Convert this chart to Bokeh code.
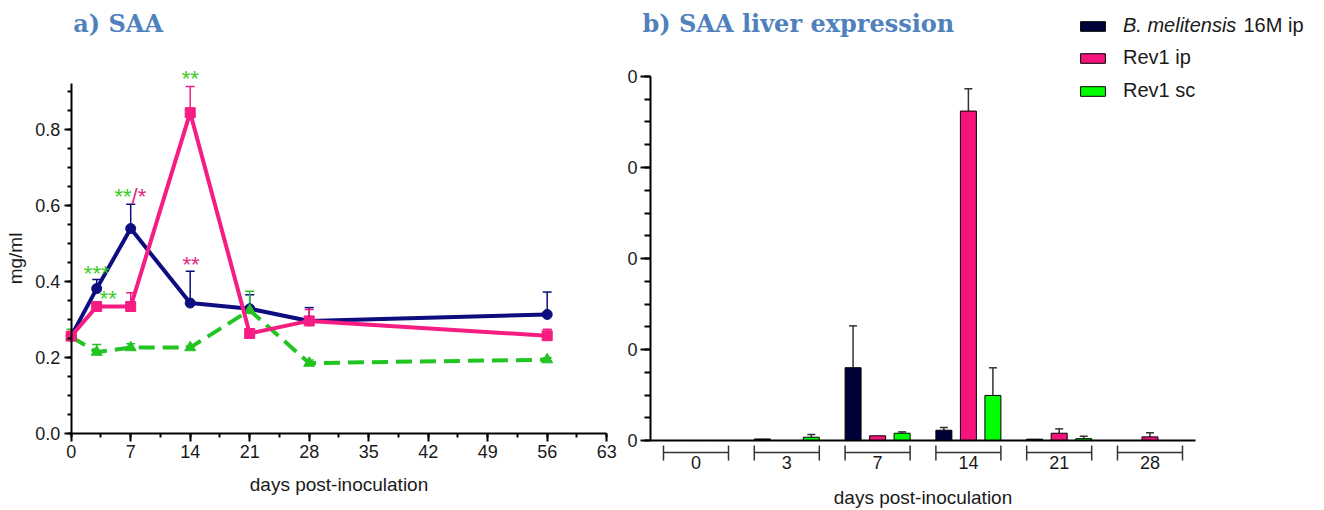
from bokeh.plotting import figure
from bokeh.layouts import row
from bokeh.models import (ColumnDataSource, Whisker, TeeHead, Range1d, SingleIntervalTicker,
                          FixedTicker, PrintfTickFormatter, Label, Legend, LegendItem)
from bokeh.embed import file_html
from bokeh.resources import INLINE

# ---------------- data: a) serum SAA (mg/ml) ----------------
days = [0, 3, 7, 14, 21, 28, 56]
bm_mean = [0.255, 0.380, 0.538, 0.342, 0.327, 0.295, 0.312]
bm_sem = [0.0, 0.024, 0.064, 0.084, 0.037, 0.035, 0.059]
ip_mean = [0.255, 0.333, 0.333, 0.843, 0.262, 0.295, 0.256]
ip_sem = [0.0, 0.006, 0.036, 0.069, 0.008, 0.030, 0.017]
sc_mean = [0.253, 0.213, 0.225, 0.225, 0.323, 0.184, 0.193]
sc_sem = [0.020, 0.020, 0.010, 0.004, 0.050, 0.008, 0.005]

# ---------------- data: b) SAA liver expression ----------------
liver_days = ["0", "3", "7", "14", "21", "28"]
bm_liver = [0.0, 0.0017, 0.080, 0.0113, 0.0015, 0.0]
bm_liver_sem = [0.0, 0.0, 0.046, 0.003, 0.0, 0.0]
ip_liver = [0.0, 0.0, 0.0052, 0.362, 0.008, 0.004]
ip_liver_sem = [0.0, 0.0, 0.0, 0.0245, 0.0048, 0.0045]
sc_liver = [0.0, 0.0036, 0.008, 0.0495, 0.002, 0.0]
sc_liver_sem = [0.0, 0.003, 0.0015, 0.0304, 0.0027, 0.0]

species_name = "B. melitensis"
series_names = ["16M ip", "Rev1 ip", "Rev1 sc"]

NAVY_L, PINK_L, GREEN_L = "#0d0d80", "#f51c82", "#22c422"
NAVY_B, PINK_B, GREEN_B = "#000038", "#f5147b", "#00ff00"
TXT = "#1a1a1a"
FONT = "Liberation Sans"
TITLE_C = "#4f81bd"
H = 510


def style_axis(ax):
    ax.axis_line_color = "black"
    ax.axis_line_width = 2
    ax.major_tick_line_color = "black"
    ax.minor_tick_line_color = "black"
    ax.major_tick_line_width = 2
    ax.minor_tick_line_width = 2
    ax.major_tick_in = 0
    ax.minor_tick_in = 0
    ax.major_label_text_font = FONT
    ax.major_label_text_font_size = "18px"
    ax.major_label_text_color = TXT
    ax.axis_label_text_font = FONT
    ax.axis_label_text_font_size = "19px"
    ax.axis_label_text_font_style = "normal"
    ax.axis_label_text_color = TXT


# ================= left panel =================
p1 = figure(width=622, height=H, output_backend="svg", toolbar_location=None, title=None,
            x_range=Range1d(-8.318, 64.86), y_range=Range1d(-0.2039, 1.1382), min_border=0)
p1.outline_line_color = None
p1.grid.visible = False

ax = p1.xaxis[0]
style_axis(ax)
ax.fixed_location = 0
ax.bounds = (0, 63)
ax.ticker = SingleIntervalTicker(interval=7, num_minor_ticks=2)
ax.major_tick_out = 8
ax.minor_tick_out = 4
ax.major_label_standoff = 4
ax.axis_label = "days post-inoculation"
ax.axis_label_standoff = 12

ay = p1.yaxis[0]
style_axis(ay)
ay.fixed_location = 0
ay.bounds = (0, 0.92)
ay.ticker = SingleIntervalTicker(interval=0.2, num_minor_ticks=4)
ay.formatter = PrintfTickFormatter(format="%.1f")
ay.major_tick_out = 7
ay.minor_tick_out = 4
ay.major_label_standoff = 4
ay.axis_label = "mg/ml"
ay.axis_label_standoff = 6


def add_series(p, mean, sem, color, marker, size, dash="solid"):
    up = [m + s for m, s in zip(mean, sem)]
    src = ColumnDataSource(dict(x=days, y=mean))
    wx = [d for d, s in zip(days, sem) if s > 0]
    wl = [m for m, s in zip(mean, sem) if s > 0]
    wu = [u for u, s in zip(up, sem) if s > 0]
    wsrc = ColumnDataSource(dict(x=wx, lo=wl, up=wu))
    p.add_layout(Whisker(base="x", lower="lo", upper="up", source=wsrc, dimension="height",
                         line_color=color, line_width=1.5, lower_head=None,
                         upper_head=TeeHead(size=9, line_color=color, line_width=1.5)))
    p.line("x", "y", source=src, line_color=color, line_width=4, line_dash=dash)
    p.scatter("x", "y", source=src, marker=marker, size=size, fill_color=color, line_color=color)


add_series(p1, bm_mean, bm_sem, NAVY_L, "circle", 10)
add_series(p1, sc_mean, sc_sem, GREEN_L, "triangle", 11, dash="16 8")
add_series(p1, ip_mean, ip_sem, PINK_L, "square", 10)


def star(p, x, y, text, color, align="center"):
    p.add_layout(Label(x=x, y=y, text=text, text_font=FONT, text_font_size="22px",
                       text_color=color, text_align=align, text_baseline="alphabetic"))


STAR_G, STAR_P = "#3ccc1e", "#e0287e"
star(p1, 3, 0.421, "***", STAR_G)
star(p1, 4.36, 0.355, "**", STAR_G)
star(p1, 7.1, 0.623, "**", STAR_G, align="right")
star(p1, 7.1, 0.623, "/*", STAR_P, align="left")
star(p1, 14, 0.934, "**", STAR_G)
star(p1, 14.1, 0.444, "**", STAR_P)

p1.add_layout(Label(x=0.235, y=1.077, text="a) SAA", text_font="DejaVu Serif",
                    text_font_size="24px", text_font_style="bold", text_color=TITLE_C,
                    text_baseline="alphabetic"))

# ================= right panel =================
p2 = figure(width=702, height=H, output_backend="svg", toolbar_location=None, title=None,
            x_range=Range1d(-0.8095, 6.922), y_range=Range1d(-0.0769, 0.4835), min_border=0)
p2.outline_line_color = None
p2.grid.visible = False

bx = p2.xaxis[0]
style_axis(bx)
bx.fixed_location = 0
bx.bounds = (-0.5, 5.5)
bx.ticker = FixedTicker(ticks=list(range(len(liver_days))))
bx.major_label_overrides = {i: d for i, d in enumerate(liver_days)}
bx.major_tick_line_color = None
bx.minor_tick_line_color = None
bx.major_tick_out = 0
bx.minor_tick_out = 0
bx.major_label_standoff = 15
bx.axis_label = "days post-inoculation"
bx.axis_label_standoff = 15

by = p2.yaxis[0]
style_axis(by)
by.fixed_location = -0.5
by.bounds = (0, 0.4)
by.ticker = SingleIntervalTicker(interval=0.1, num_minor_ticks=4)
by.formatter = PrintfTickFormatter(format="%.0f")
by.major_tick_out = 10
by.minor_tick_out = 6
by.major_label_standoff = 3

idx = list(range(len(liver_days)))
BW = 0.176
OFF = 0.27
renderers = []
for k, (vals, sems, col) in enumerate([(bm_liver, bm_liver_sem, NAVY_B),
                                       (ip_liver, ip_liver_sem, PINK_B),
                                       (sc_liver, sc_liver_sem, GREEN_B)]):
    xs = [i + (k - 1) * OFF for i in idx]
    wx = [x for x, s in zip(xs, sems) if s > 0]
    wl = [v for v, s in zip(vals, sems) if s > 0]
    wu = [v + s for v, s in zip(vals, sems) if s > 0]
    p2.add_layout(Whisker(base="x", lower="lo", upper="up",
                          source=ColumnDataSource(dict(x=wx, lo=wl, up=wu)), dimension="height",
                          line_color="#333333", line_width=1.5, lower_head=None,
                          upper_head=TeeHead(size=8, line_color="#333333", line_width=1.5)))
    r = p2.vbar(x=xs, top=vals, bottom=0, width=BW, fill_color=col, line_color="black",
                line_width=1)
    renderers.append(r)

# group brackets under the axis
BH = 0.358
y_br = -12 / 910
y_c0, y_c1 = -5 / 910, -20 / 910
p2.segment(x0=[i - BH for i in idx], y0=[y_br] * len(idx), x1=[i + BH for i in idx],
           y1=[y_br] * len(idx), line_color="#333333", line_width=1.5)
p2.segment(x0=[i - BH for i in idx] + [i + BH for i in idx], y0=[y_c0] * (2 * len(idx)),
           x1=[i - BH for i in idx] + [i + BH for i in idx], y1=[y_c1] * (2 * len(idx)),
           line_color="#333333", line_width=1.5)

leg_common = dict(orientation="vertical", glyph_width=31, glyph_height=12,
                  label_text_font=FONT, label_text_font_size="20px", label_text_color=TXT,
                  label_standoff=15, spacing=10, label_height=20, padding=0, margin=0,
                  border_line_color=None, background_fill_alpha=0)
legend_a = Legend(items=[LegendItem(label=species_name, renderers=[renderers[0]])],
                  location=(455, 473), label_text_font_style="italic", **leg_common)
legend_b = Legend(items=[LegendItem(label=n, renderers=[r])
                         for n, r in zip(series_names[1:], renderers[1:])],
                  location=(455, 408), **leg_common)
p2.add_layout(legend_a)
p2.add_layout(legend_b)
p2.add_layout(Label(x=(1243 - 695.5) / 90.8, y=0.4561, text=series_names[0], text_font=FONT,
                    text_font_size="20px", text_color=TXT, text_baseline="alphabetic"))

p2.add_layout(Label(x=-0.589, y=0.458, text="b) SAA liver expression", text_font="DejaVu Serif",
                    text_font_size="24px", text_font_style="bold", text_color=TITLE_C,
                    text_baseline="alphabetic"))

layout = row(p1, p2)
open("out.html", "w").write(file_html(layout, INLINE))
